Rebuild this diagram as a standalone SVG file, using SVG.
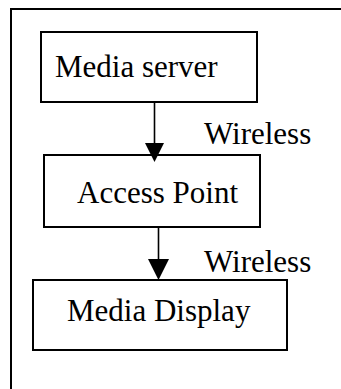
<svg xmlns="http://www.w3.org/2000/svg" width="341" height="389" viewBox="0 0 341 389">
  <style>
    .box { fill: #ffffff; stroke: #000000; stroke-width: 2; }
    .frame { fill: none; stroke: #000000; stroke-width: 2; }
    .label { font-family: "Liberation Serif", "Times New Roman", serif; font-size: 31px; fill: #000000; }
    .link { stroke: #000000; stroke-width: 1.6; fill: none; }
    .head { fill: #000000; stroke: none; }
  </style>
  <rect width="341" height="389" fill="#ffffff"/>

  <!-- open frame: top and left edges only -->
  <path class="frame" d="M11,389 V9 H341"/>

  <g id="media-server">
    <rect class="box" x="41" y="32" width="216" height="70"/>
    <text class="label" x="55" y="77">Media server</text>
  </g>

  <g id="access-point">
    <rect class="box" x="44" y="155" width="216" height="72"/>
    <text class="label" x="77" y="203">Access Point</text>
  </g>

  <g id="media-display">
    <rect class="box" x="33" y="280" width="254" height="70"/>
    <text class="label" x="67" y="321">Media Display</text>
  </g>

  <g id="connectors">
    <line class="link" x1="154.5" y1="102" x2="154.5" y2="145"/>
    <polygon class="head" points="145,143 164,143 154.5,162"/>
    <text class="label" x="204" y="144">Wireless</text>

    <line class="link" x1="158.5" y1="227" x2="158.5" y2="261"/>
    <polygon class="head" points="148,259 169,259 158.5,280"/>
    <text class="label" x="204" y="272">Wireless</text>
  </g>
</svg>
